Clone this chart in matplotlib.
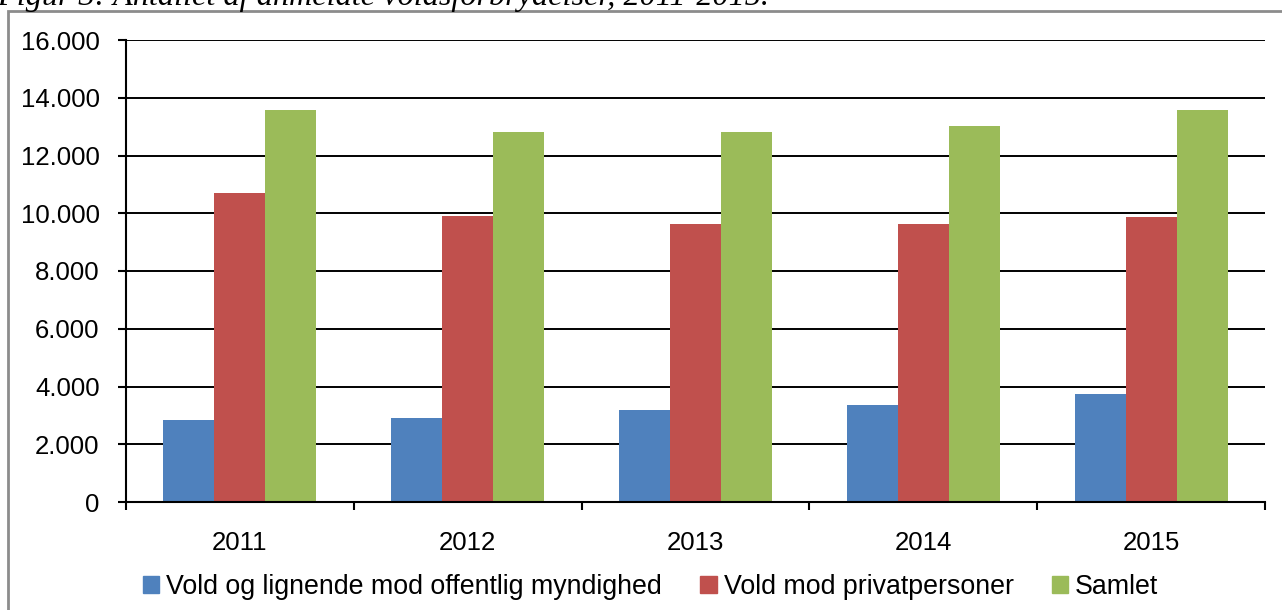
import matplotlib.pyplot as plt
import matplotlib.patches as mpatches
import numpy as np

years = ["2011", "2012", "2013", "2014", "2015"]
offentlig = [2840, 2910, 3190, 3360, 3740]
privat = [10700, 9920, 9630, 9630, 9870]
samlet = [13580, 12830, 12830, 13020, 13580]
series_names = ["Vold og lignende mod offentlig myndighed", "Vold mod privatpersoner", "Samlet"]
colors = ["#4F81BD", "#C0504D", "#9BBB59"]

plt.rcParams['font.family'] = ['Liberation Sans', 'DejaVu Sans']

fig = plt.figure(figsize=(12.82, 6.10), dpi=100)
ax = fig.add_axes([126 / 1282, 108 / 610, (1265 - 126) / 1282, (502 - 40) / 610])

x = np.arange(len(years))
w = 0.224
for i, (vals, name, c) in enumerate(zip([offentlig, privat, samlet], series_names, colors)):
    ax.bar(x + (i - 1) * w, vals, width=w, color=c, label=name, zorder=3)

ax.set_xlim(-0.5, len(years) - 0.5)
ax.set_ylim(0, 16000)
yt = np.arange(0, 16001, 2000)
ax.set_yticks(yt)
ax.set_yticklabels(["0" if v == 0 else f"{v // 1000}.000" for v in yt])
ax.set_xticks(x)
ax.set_xticklabels(years)
ax.set_xticks(np.arange(-0.5, len(years)), minor=True)

ax.tick_params(axis='x', which='major', length=0, pad=21, labelsize=18.5)
ax.tick_params(axis='x', which='minor', length=6, width=1.5, direction='out')
ax.tick_params(axis='y', length=6, width=1.5, direction='out', pad=13, labelsize=18.5)

ax.grid(axis='y', color='black', linewidth=1.4, zorder=0)
ax.set_axisbelow(True)
for s in ['top', 'right']:
    ax.spines[s].set_visible(False)
for s in ['left', 'bottom']:
    ax.spines[s].set_linewidth(1.5)
    ax.spines[s].set_zorder(4)

handles = [mpatches.Patch(color=c, label=n) for c, n in zip(colors, series_names)]
fig.legend(handles=handles, loc='center', bbox_to_anchor=(650.5 / 1282, 23 / 610), ncol=3,
           frameon=False, fontsize=19.3, handlelength=0.63, handleheight=0.63,
           handletextpad=0.25, columnspacing=1.42, borderpad=0, borderaxespad=0)

# figure frame
fig.patches.append(mpatches.Rectangle((8 / 1282, -0.1), 1.2, 1 - 11 / 610 + 0.1,
                                      transform=fig.transFigure, fill=False,
                                      edgecolor='#8c8c8c', linewidth=2))
fig.text(-0.002, 1 - 5 / 610, "Figur 3: Antallet af anmeldte voldsforbrydelser, 2011-2015.",
         family=['Liberation Serif'], style='italic', fontsize=23.2, va='baseline', ha='left')

fig.savefig("out.png", dpi=100)
